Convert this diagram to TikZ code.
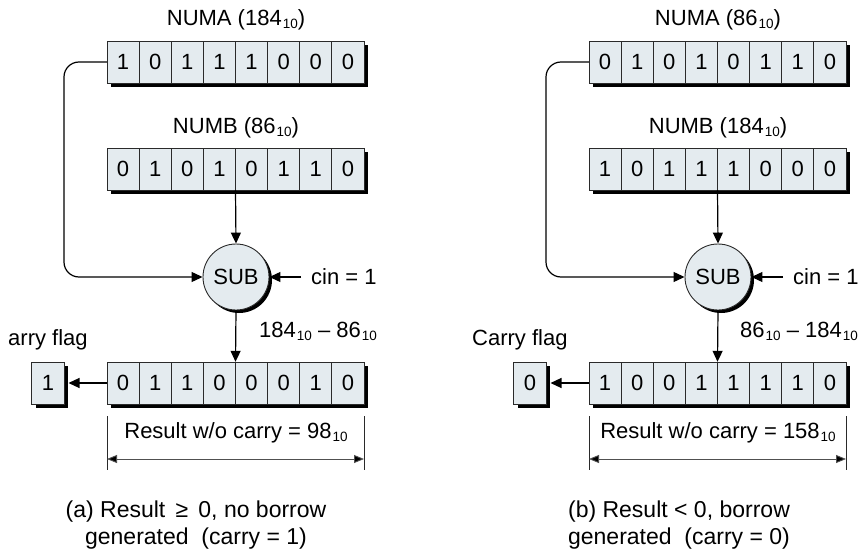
\documentclass[tikz,border=0pt]{standalone}
\usepackage{fontspec}
\setmainfont{Liberation Sans}
\usetikzlibrary{arrows.meta,calc}
\definecolor{cellc}{HTML}{E4EBEF}
\definecolor{linec}{HTML}{2A2A2A}
\definecolor{dimc}{HTML}{505050}
\newcommand\dsub[1]{\kern1pt\raisebox{-3pt}{\fontsize{13.5pt}{13.5pt}\selectfont #1}}
\newcommand\register[4]{%
  \fill[black] (#2+4,#3-17) rectangle (#2+261,#3+25);
  \foreach \b [count=\i] in {#4} {\node[cell] (#1-\i) at ({#2+16.0625+32.125*(\i-1)},#3) {\b};}
  \node[inner sep=0pt, minimum width=257pt, minimum height=42pt] (#1) at (#2+128.5,#3) {};
}
\tikzset{
  cell/.style={draw=linec, line width=0.9pt, fill=cellc, minimum width=32.125pt,
    minimum height=42pt, inner sep=0pt, font=\fontsize{22pt}{22pt}\selectfont},
  lbl/.style={inner sep=0pt, font=\fontsize{22pt}{27pt}\selectfont},
  caplbl/.style={inner sep=0pt, font=\fontsize{23pt}{27pt}\selectfont},
  subnode/.style={circle, draw=linec, fill=cellc, line width=0.9pt, minimum size=66pt,
    inner sep=0pt, font=\fontsize{22pt}{22pt}\selectfont},
  arr/.style={line width=1.2pt, -{Triangle[length=11pt,width=10pt]}},
  dimtick/.style={line width=0.7pt, draw=linec},
  dimarr/.style={line width=0.9pt, draw=dimc, {Triangle[length=10pt,width=8pt,fill=black]}-{Triangle[length=10pt,width=8pt,fill=black]}},
}
\begin{document}
\begin{tikzpicture}[x=1pt,y=-1pt]
\useasboundingbox (0,0) rectangle (868,554);
% ---------------- panel (a)
\begin{scope}
\node[lbl] (a-numal) at (236,20) {NUMA (184\dsub{10})};
\register{a-numa}{107}{62}{1,0,1,1,1,0,0,0}
\node[lbl] (a-numbl) at (236,128) {NUMB (86\dsub{10})};
\register{a-numb}{107}{169}{0,1,0,1,0,1,1,0}
\fill[black] (239,280) circle (33pt);
\node[subnode] (a-sub) at (236,277) {SUB};
\coordinate (a-bend) at (64,277);
\draw[arr, rounded corners=15pt] (a-numa.west) -| (a-bend) -- (a-sub.west);
\draw[arr] (a-numb.south) -- (a-sub.north);
\node[lbl, anchor=west] (a-cin) at (311,277) {cin = 1};
\draw[arr] ([xshift=-10pt]a-cin.west) -- (a-sub.east);
\register{a-res}{107}{383}{0,1,1,0,0,0,1,0}
\fill[black] (36,366) rectangle (68,408);
\node[cell] (a-cf) at (48,383) {1};
\draw[arr] (a-sub.south) -- (a-res.north);
\draw[arr] (a-res.west) -- ([xshift=4pt]a-cf.east);
\node[lbl, anchor=west] (a-diff) at (259,331) {184\dsub{10} – 86\dsub{10}};
\node[lbl, anchor=west] (a-cfl) at (8,340) {arry flag};
\coordinate (a-d1t) at (107,416); \coordinate (a-d1b) at (107,470);
\coordinate (a-d2t) at (364,416); \coordinate (a-d2b) at (364,470);
\coordinate (a-dl) at (107,459); \coordinate (a-dr) at (364,459);
\draw[dimtick] (a-d1t) -- (a-d1b);
\draw[dimtick] (a-d2t) -- (a-d2b);
\draw[dimarr] (a-dl) -- (a-dr);
\node[lbl] (a-rl) at (236,433) {Result w/o carry = 98\dsub{10}};
\node[caplbl, align=center] (a-cap) at (196,525) {(a) Result \,≥\, 0, no borrow\\generated\ \ (carry = 1)};
\end{scope}
% ---------------- panel (b)
\begin{scope}[xshift=482pt]
\node[lbl] (b-numal) at (236,20) {NUMA (86\dsub{10})};
\register{b-numa}{107}{62}{0,1,0,1,0,1,1,0}
\node[lbl] (b-numbl) at (236,128) {NUMB (184\dsub{10})};
\register{b-numb}{107}{169}{1,0,1,1,1,0,0,0}
\fill[black] (239,280) circle (33pt);
\node[subnode] (b-sub) at (236,277) {SUB};
\coordinate (b-bend) at (64,277);
\draw[arr, rounded corners=15pt] (b-numa.west) -| (b-bend) -- (b-sub.west);
\draw[arr] (b-numb.south) -- (b-sub.north);
\node[lbl, anchor=west] (b-cin) at (311,277) {cin = 1};
\draw[arr] ([xshift=-10pt]b-cin.west) -- (b-sub.east);
\register{b-res}{107}{383}{1,0,0,1,1,1,1,0}
\fill[black] (36,366) rectangle (68,408);
\node[cell] (b-cf) at (48,383) {0};
\draw[arr] (b-sub.south) -- (b-res.north);
\draw[arr] (b-res.west) -- ([xshift=4pt]b-cf.east);
\node[lbl, anchor=west] (b-diff) at (258,331) {86\dsub{10} – 184\dsub{10}};
\node[lbl, anchor=west] (b-cfl) at (-10,340) {Carry flag};
\coordinate (b-d1t) at (107,416); \coordinate (b-d1b) at (107,470);
\coordinate (b-d2t) at (364,416); \coordinate (b-d2b) at (364,470);
\coordinate (b-dl) at (107,459); \coordinate (b-dr) at (364,459);
\draw[dimtick] (b-d1t) -- (b-d1b);
\draw[dimtick] (b-d2t) -- (b-d2b);
\draw[dimarr] (b-dl) -- (b-dr);
\node[lbl] (b-rl) at (236,433) {Result w/o carry = 158\dsub{10}};
\node[caplbl, align=center] (b-cap) at (197,525) {(b) Result < 0, borrow\\generated\ \ (carry = 0)};
\end{scope}
\end{tikzpicture}
\end{document}
